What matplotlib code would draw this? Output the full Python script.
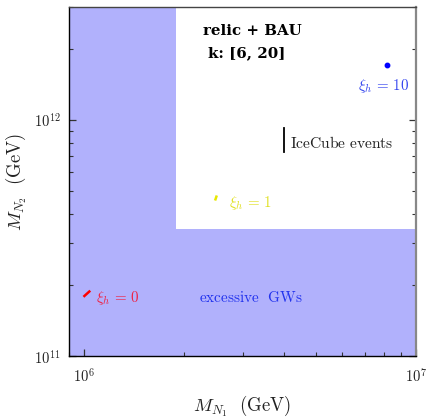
import matplotlib
matplotlib.use('Agg')
import numpy as np
import matplotlib.pyplot as plt
from matplotlib.ticker import LogLocator, FuncFormatter, NullFormatter

plt.rcParams['mathtext.fontset'] = 'cm'
plt.rcParams['font.family'] = 'serif'
plt.rcParams['font.serif'] = ['DejaVu Serif']

# ---- data ----
x_limits = [9.0e5, 1.0e7]
y_limits = [1.0e11, 3.0e12]
gw_bound_x = 1.89e6      # excessive GWs region: M_N1 < this ...
gw_bound_y = 3.45e11     # ... or M_N2 < this

red_x = [0.995e6, 1.043e6]
red_y = [1.78e11, 1.89e11]
yellow_x = [2.48e6, 2.51e6]
yellow_y = [4.55e11, 4.78e11]
blue_x = [8.16e6]
blue_y = [1.71e12]
icecube_x = [4.0e6, 4.0e6]
icecube_y = [7.32e11, 9.25e11]

x_major = [1e6, 1e7]
y_major = [1e11, 1e12]

fill_color = '#b1b1fc'

fig = plt.figure(figsize=(4.27, 4.17), dpi=100)
ax = fig.add_axes([69/427, 61/417, 347/427, 349/417])
ax.set_xscale('log')
ax.set_yscale('log')
ax.set_xlim(x_limits)
ax.set_ylim(y_limits)

# excluded region (L-shape)
poly_x = [x_limits[0], x_limits[1], x_limits[1], gw_bound_x, gw_bound_x, x_limits[0]]
poly_y = [y_limits[0], y_limits[0], gw_bound_y, gw_bound_y, y_limits[1], y_limits[1]]
ax.fill(poly_x, poly_y, color=fill_color, lw=0, zorder=0)

ax.plot(red_x, red_y, color='red', lw=1.8, solid_capstyle='butt')
ax.plot(yellow_x, yellow_y, color='#e8e800', lw=1.8, solid_capstyle='butt')
ax.plot(blue_x, blue_y, 'o', color='blue', ms=3.2)
ax.plot(icecube_x, icecube_y, color='black', lw=1.3)

tfs = 10.8
ax.text(1.087e6, 1.76e11, r'$\xi_h\,=\,0$', color='#ee2244', fontsize=tfs, va='center', ha='left')
ax.text(2.73e6, 4.45e11, r'$\xi_h\,=\,1$', color='#e0e020', fontsize=tfs, va='center', ha='left')
ax.text(6.69e6, 1.39e12, r'$\xi_h\,=\,10$', color='#3344ee', fontsize=tfs, va='center', ha='left')
ax.text(2.22e6, 1.76e11, r'$\mathrm{excessive\ \ GWs}$', color='#2233ee', fontsize=11, va='center', ha='left')
ax.text(4.17e6, 7.91e11, r'$\mathrm{IceCube\ events}$', color='#222222', fontsize=11.2, va='center', ha='left')
ax.text(2.28e6, 2.38e12, 'relic + BAU', fontsize=10.8, fontweight='bold', va='center', ha='left',
        family='DejaVu Serif')
ax.text(2.36e6, 1.92e12, 'k: [6, 20]', fontsize=10.8, fontweight='bold', va='center', ha='left',
        family='DejaVu Serif')

# ticks
fmt = FuncFormatter(lambda v, p: r'$10^{%d}$' % int(round(np.log10(v))))
ax.xaxis.set_major_locator(matplotlib.ticker.FixedLocator(x_major))
ax.yaxis.set_major_locator(matplotlib.ticker.FixedLocator(y_major))
ax.xaxis.set_major_formatter(fmt)
ax.yaxis.set_major_formatter(fmt)
ax.xaxis.set_minor_locator(LogLocator(base=10, subs=np.arange(2, 10)))
ax.yaxis.set_minor_locator(LogLocator(base=10, subs=np.arange(2, 10)))
ax.xaxis.set_minor_formatter(NullFormatter())
ax.yaxis.set_minor_formatter(NullFormatter())
ax.tick_params(which='both', direction='in', top=False, right=True, colors='#333333',
               labelcolor='#222222', labelsize=10.5)
ax.tick_params(which='major', length=5, width=0.9)
ax.tick_params(which='minor', length=3, width=0.8)
ax.tick_params(axis='x', which='major', pad=8)
ax.tick_params(axis='y', which='major', pad=6)

for side, c, w in [('left', 'black', 1.0), ('bottom', 'black', 1.0), ('top', '#444444', 1.0), ('right', '#888888', 1.6)]:
    ax.spines[side].set_color(c)
    ax.spines[side].set_linewidth(w)

ax.set_xlabel(r'$M_{N_1}\ \ (\mathrm{GeV})$', fontsize=13.5, color='#222222', labelpad=6)
ax.set_ylabel(r'$M_{N_2}\ \ (\mathrm{GeV})$', fontsize=13.5, color='#222222', labelpad=4)

fig.savefig('out.png', dpi=100)
